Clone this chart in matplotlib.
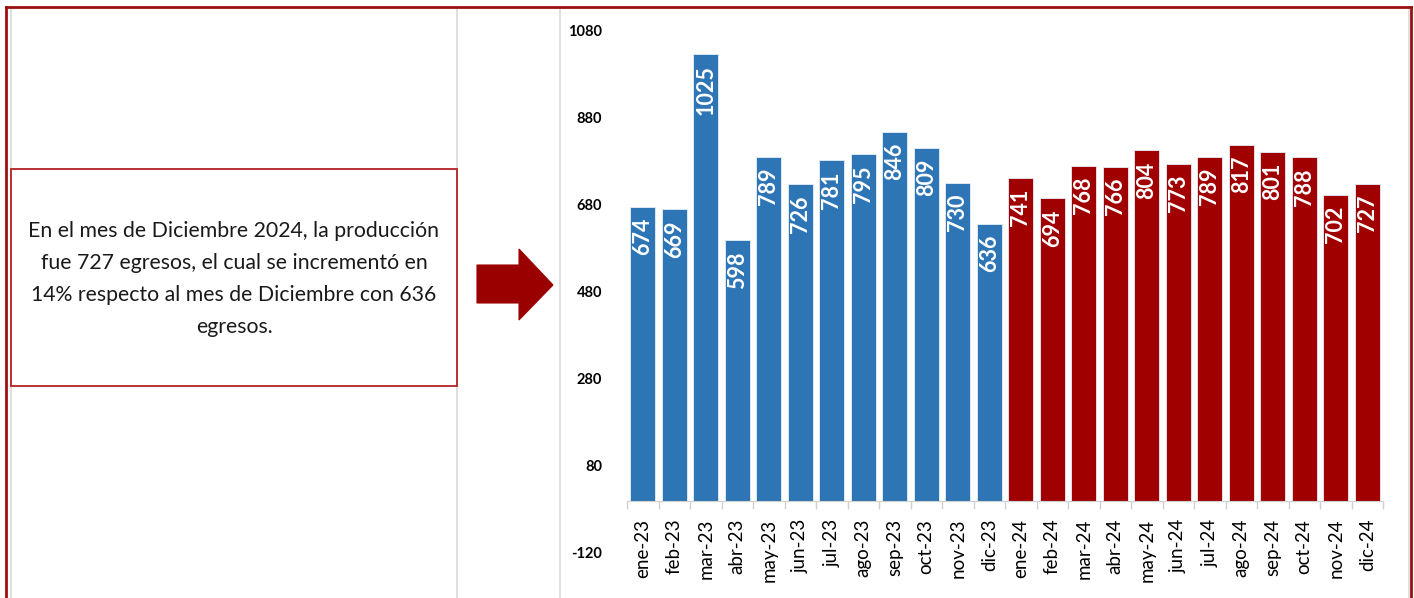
import matplotlib
matplotlib.use("Agg")
import matplotlib.pyplot as plt
import numpy as np
from matplotlib.patches import Rectangle, Polygon
from matplotlib.lines import Line2D

plt.rcParams['font.family'] = ['Lato', 'DejaVu Sans']

meses = ['ene', 'feb', 'mar', 'abr', 'may', 'jun', 'jul', 'ago', 'sep', 'oct', 'nov', 'dic']
egresos_2023 = [674, 669, 1025, 598, 789, 726, 781, 795, 846, 809, 730, 636]
egresos_2024 = [741, 694, 768, 766, 804, 773, 789, 817, 801, 788, 702, 727]
etiquetas = [m + '-23' for m in meses] + [m + '-24' for m in meses]
valores = egresos_2023 + egresos_2024
colores = ['#2E75B6'] * len(egresos_2023) + ['#A00000'] * len(egresos_2024)
y_ticks = [-120, 80, 280, 480, 680, 880, 1080]
texto = ("En el mes de Diciembre 2024, la producción\n"
         "fue 727 egresos, el cual se incrementó en\n"
         "14% respecto al mes de Diciembre con 636\n"
         "egresos.")

W, H = 1414, 598
fig = plt.figure(figsize=(W / 100, H / 100), dpi=100)

def fx(px):
       return px / W

def fy(py):
       return 1 - py / H

# spreadsheet grid lines and outer frame
for x in [11, 457, 560, 1409]:
       fig.add_artist(Line2D([fx(x), fx(x)], [0, fy(9)], color='#d9d9d9', lw=1.2))
fig.add_artist(Line2D([fx(6), fx(6)], [0, fy(7)], color='#9B1111', lw=2))
fig.add_artist(Line2D([fx(1411), fx(1411)], [0, fy(7)], color='#9B1111', lw=2))
fig.add_artist(Line2D([fx(6), fx(1411)], [fy(7), fy(7)], color='#9B1111', lw=2))

# text box
fig.add_artist(Rectangle((fx(11), fy(386)), fx(457 - 11), (386 - 169) / H,
                         facecolor='white', edgecolor='#B22222', lw=1.3, zorder=3))
fig.text(fx(234), fy(279), texto, ha='center', va='center', fontsize=15.3,
         linespacing=1.75, color='#1a1a1a', zorder=4)

# arrow
pts = [(477, 265), (519, 265), (519, 249), (553, 285), (519, 320), (519, 303), (477, 303)]
fig.add_artist(Polygon([(fx(x), fy(y)) for x, y in pts], closed=True,
                       facecolor='#9B0000', edgecolor='#9B0000', lw=0.8))

# chart
ax = fig.add_axes([fx(627), fy(553), fx(1383 - 627), (553 - 30) / H])
for s in ['top', 'right', 'left']:
       ax.spines[s].set_visible(False)
ax.spines['bottom'].set_position(('data', 0))
ax.spines['bottom'].set_color('#d0d0d0')
ax.patch.set_alpha(0)

x = np.arange(len(valores))
bars = ax.bar(x, valores, width=0.78, color=colores, edgecolor='#e6eef7', linewidth=0.6, zorder=2)
for xi, v in zip(x, valores):
       ax.annotate(str(v), (xi, v), xytext=(0, -11), textcoords='offset pixels',
                   rotation=90, ha='center', va='top', color='white',
                   fontsize=15.5, fontweight='bold')

ax.set_xlim(-0.5, len(valores) - 0.5)
ax.set_ylim(-120, 1080)
ax.set_yticks(y_ticks)
ax.set_yticklabels([str(t) for t in y_ticks], fontsize=10.5, fontweight='bold')
ax.tick_params(axis='y', length=0, pad=18)
ax.set_xticks(x)
ax.set_xticklabels(etiquetas)
ax.set_xticks(np.arange(len(valores) + 1) - 0.5, minor=True)
ax.tick_params(axis='x', which='major', length=0, pad=13, labelrotation=90, labelsize=13.5)
ax.tick_params(axis='x', which='minor', length=6, color='#d0d0d0', width=1)

fig.savefig('out.png', dpi=100)
